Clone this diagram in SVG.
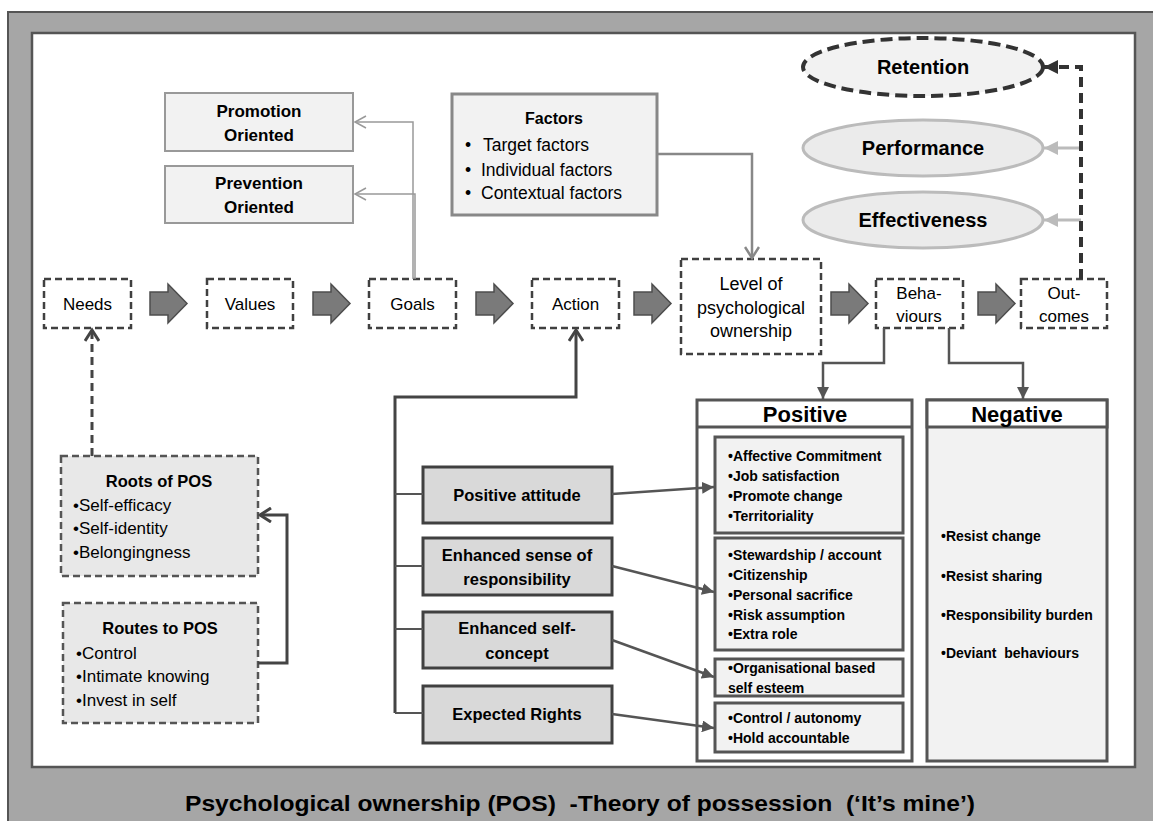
<svg xmlns="http://www.w3.org/2000/svg" width="1153" height="821" viewBox="0 0 1153 821">
<style>
text{font-family:"Liberation Sans",Arial,sans-serif;fill:#000}
.b{font-weight:bold}
.m{text-anchor:middle}
.pre{white-space:pre}
.dash{fill:#fff;stroke:#404040;stroke-width:2.5;stroke-dasharray:7,4}
.blk{fill:#7a7a7a;stroke:#4d4d4d;stroke-width:1.5}
.lt{fill:#f2f2f2;stroke:#999;stroke-width:2}
.dk{fill:#d9d9d9;stroke:#404040;stroke-width:3}
.inb{fill:#f2f2f2;stroke:#555;stroke-width:3}
.t17{font-size:17px}
.t14{font-size:14px}
.t16{font-size:16.5px}
</style>
<defs>
<marker id="chevG" markerUnits="userSpaceOnUse" markerWidth="14" markerHeight="14" refX="12" refY="7" orient="auto"><path d="M1,1 L12,7 L1,13" fill="none" stroke="#999" stroke-width="1.5"/></marker>
<marker id="chevM" markerUnits="userSpaceOnUse" markerWidth="16" markerHeight="16" refX="13" refY="8" orient="auto"><path d="M2,1 L13,8 L2,15" fill="none" stroke="#888" stroke-width="2.5"/></marker>
<marker id="chevD" markerUnits="userSpaceOnUse" markerWidth="16" markerHeight="16" refX="13" refY="8" orient="auto"><path d="M2,1 L13,8 L2,15" fill="none" stroke="#444" stroke-width="3"/></marker>
<marker id="triD" markerUnits="userSpaceOnUse" markerWidth="14" markerHeight="12" refX="12" refY="6" orient="auto"><path d="M0,0 L12,6 L0,12 Z" fill="#555"/></marker>
<marker id="triK" markerUnits="userSpaceOnUse" markerWidth="16" markerHeight="14" refX="14" refY="7" orient="auto"><path d="M0,0 L14,7 L0,14 Z" fill="#333"/></marker>
<marker id="triL" markerUnits="userSpaceOnUse" markerWidth="16" markerHeight="14" refX="14" refY="7" orient="auto"><path d="M0,0 L14,7 L0,14 Z" fill="#bbb"/></marker>
</defs>

<!-- frame -->
<rect x="8" y="12" width="1160" height="830" fill="#a6a6a6" stroke="#555" stroke-width="2"/>
<rect x="32" y="33" width="1103" height="734" fill="#fff" stroke="#555" stroke-width="2.5"/>
<text x="580" y="811" class="b m pre" font-size="22" textLength="790" lengthAdjust="spacingAndGlyphs">Psychological ownership (POS)  -Theory of possession  (‘It’s mine’)</text>

<!-- block arrows -->
<g id="flow-arrows">
  <path class="blk" d="M150,292 H168 V284 L187,303.5 L168,323 V315 H150 Z"/>
  <path class="blk" d="M313,292 H331 V284 L350,303.5 L331,323 V315 H313 Z"/>
  <path class="blk" d="M476,292 H494 V284 L513,303.5 L494,323 V315 H476 Z"/>
  <path class="blk" d="M634,292 H652 V284 L671,303.5 L652,323 V315 H634 Z"/>
  <path class="blk" d="M831,292 H849 V284 L868,303.5 L849,323 V315 H831 Z"/>
  <path class="blk" d="M978,292 H996 V284 L1015,303.5 L996,323 V315 H978 Z"/>
</g>

<g id="needs"><rect class="dash" x="44" y="279" width="87" height="49"/><text x="87.5" y="310" class="m t17">Needs</text></g>
<g id="values"><rect class="dash" x="207" y="279" width="86" height="49"/><text x="250" y="310" class="m t17">Values</text></g>
<g id="goals"><rect class="dash" x="369" y="279" width="87" height="49"/><text x="412.5" y="310" class="m t17">Goals</text></g>
<g id="action"><rect class="dash" x="532" y="279" width="87" height="49"/><text x="575.5" y="310" class="m t17">Action</text></g>
<g id="level"><rect class="dash" x="681" y="259" width="140" height="95"/>
  <text x="751" y="290" class="m" font-size="18">Level of</text>
  <text x="751" y="314" class="m" font-size="18">psychological</text>
  <text x="751" y="337" class="m" font-size="18">ownership</text></g>
<g id="behaviours"><rect class="dash" x="876" y="279" width="87" height="49"/>
  <text x="919" y="299" class="m t17">Beha-</text><text x="919" y="322" class="m t17">viours</text></g>
<g id="outcomes"><rect class="dash" x="1021" y="279" width="86" height="49"/>
  <text x="1064" y="299" class="m t17">Out-</text><text x="1064" y="322" class="m t17">comes</text></g>

<g id="promotion"><rect class="lt" x="165" y="93" width="188" height="58"/>
  <text x="259" y="117" class="b m t17">Promotion</text><text x="259" y="141" class="b m t17">Oriented</text></g>
<g id="prevention"><rect class="lt" x="165" y="166" width="188" height="57"/>
  <text x="259" y="189" class="b m t17">Prevention</text><text x="259" y="213" class="b m t17">Oriented</text></g>

<g id="factors"><rect x="452" y="94" width="205" height="121" fill="#f2f2f2" stroke="#888" stroke-width="3"/>
  <text x="554" y="124" class="b m" font-size="16">Factors</text>
  <text x="465" y="151" font-size="17.5">•</text><text x="483" y="151" font-size="17.5">Target factors</text>
  <text x="465" y="176" font-size="17.5">•</text><text x="481" y="176" font-size="17.5">Individual factors</text>
  <text x="465" y="199" font-size="17.5">•</text><text x="481" y="199" font-size="17.5">Contextual factors</text></g>

<g id="retention"><ellipse cx="923" cy="67" rx="120" ry="29" fill="#f2f2f2" stroke="#333" stroke-width="4" stroke-dasharray="12,6"/>
  <text x="923" y="74" class="b m" font-size="20">Retention</text></g>
<g id="performance"><ellipse cx="923" cy="148" rx="120" ry="28" fill="#ebebeb" stroke="#bbb" stroke-width="3"/>
  <text x="923" y="155" class="b m" font-size="20">Performance</text></g>
<g id="effectiveness"><ellipse cx="923" cy="220" rx="120" ry="28" fill="#ebebeb" stroke="#bbb" stroke-width="3"/>
  <text x="923" y="227" class="b m" font-size="20">Effectiveness</text></g>

<g id="roots"><rect x="61" y="456" width="197" height="120" fill="#e8e8e8" stroke="#555" stroke-width="2.5" stroke-dasharray="7,4"/>
  <text x="159" y="487" class="b m" font-size="16.5">Roots of POS</text>
  <text x="73" y="511" class="t17">•Self-efficacy</text>
  <text x="73" y="534" class="t17">•Self-identity</text>
  <text x="73" y="558" class="t17">•Belongingness</text></g>
<g id="routes"><rect x="63" y="603" width="195" height="120" fill="#e8e8e8" stroke="#555" stroke-width="2.5" stroke-dasharray="7,4"/>
  <text x="160" y="634" class="b m" font-size="16.5">Routes to POS</text>
  <text x="76" y="659" class="t17">•Control</text>
  <text x="76" y="682" class="t17">•Intimate knowing</text>
  <text x="76" y="706" class="t17">•Invest in self</text></g>

<g id="positive-attitude"><rect class="dk" x="423" y="467" width="189" height="56"/><text x="517" y="501" class="b m t16">Positive attitude</text></g>
<g id="responsibility"><rect class="dk" x="423" y="538" width="189" height="57"/><text x="517" y="561" class="b m t16">Enhanced sense of</text><text x="517" y="585" class="b m t16">responsibility</text></g>
<g id="self-concept"><rect class="dk" x="423" y="612" width="189" height="56"/><text x="517" y="634" class="b m t16">Enhanced self-</text><text x="517" y="659" class="b m t16">concept</text></g>
<g id="expected-rights"><rect class="dk" x="423" y="686" width="189" height="57"/><text x="517" y="720" class="b m t16">Expected Rights</text></g>

<g id="positive"><rect x="697" y="400" width="215" height="361" fill="#fff" stroke="#555" stroke-width="3"/>
  <line x1="697" y1="427" x2="912" y2="427" stroke="#555" stroke-width="3"/>
  <text x="805" y="422" class="b m" font-size="22">Positive</text>
  <rect class="inb" x="715" y="437" width="188" height="96"/>
  <text x="728" y="461" class="b t14">•Affective Commitment</text>
  <text x="728" y="481" class="b t14">•Job satisfaction</text>
  <text x="728" y="501" class="b t14">•Promote change</text>
  <text x="728" y="521" class="b t14">•Territoriality</text>
  <rect class="inb" x="715" y="538" width="188" height="112"/>
  <text x="728" y="560" class="b t14">•Stewardship / account</text>
  <text x="728" y="580" class="b t14">•Citizenship</text>
  <text x="728" y="600" class="b t14">•Personal sacrifice</text>
  <text x="728" y="620" class="b t14">•Risk assumption</text>
  <text x="728" y="639" class="b t14">•Extra role</text>
  <rect class="inb" x="715" y="659" width="188" height="37"/>
  <text x="728" y="673" class="b t14">•Organisational based</text>
  <text x="728" y="693" class="b t14">self esteem</text>
  <rect class="inb" x="715" y="703" width="188" height="49"/>
  <text x="728" y="723" class="b t14">•Control / autonomy</text>
  <text x="728" y="743" class="b t14">•Hold accountable</text></g>

<g id="negative"><rect x="927" y="400" width="180" height="361" fill="#f2f2f2" stroke="#555" stroke-width="3"/>
  <rect x="927" y="400" width="180" height="27" fill="#fff" stroke="#555" stroke-width="3"/>
  <text x="1017" y="422" class="b m" font-size="22">Negative</text>
  <text x="941" y="541" class="b t14">•Resist change</text>
  <text x="941" y="581" class="b t14">•Resist sharing</text>
  <text x="941" y="620" class="b t14">•Responsibility burden</text>
  <text x="941" y="658" class="b t14 pre">•Deviant  behaviours</text></g>

<!-- connectors -->
<g id="connectors" fill="none">
  <polyline points="413,279 413,122 355,122" stroke="#999" stroke-width="1.5" marker-end="url(#chevG)"/>
  <polyline points="415,279 415,194 355,194" stroke="#999" stroke-width="1.5" marker-end="url(#chevG)"/>
  <polyline points="657,154 752,154 752,258" stroke="#888" stroke-width="2.5" marker-end="url(#chevM)"/>
  <polyline points="92,456 92,330" stroke="#444" stroke-width="3" stroke-dasharray="8,5" marker-end="url(#chevD)"/>
  <polyline points="258,663 287,663 287,515 260,515" stroke="#444" stroke-width="3" marker-end="url(#chevD)"/>
  <polyline points="395,713 395,397 576,397 576,330" stroke="#444" stroke-width="3" marker-end="url(#chevD)"/>
  <line x1="395" y1="494" x2="423" y2="494" stroke="#555" stroke-width="2"/>
  <line x1="395" y1="566" x2="423" y2="566" stroke="#555" stroke-width="2"/>
  <line x1="395" y1="629" x2="423" y2="629" stroke="#555" stroke-width="2"/>
  <line x1="395" y1="713" x2="423" y2="713" stroke="#555" stroke-width="2"/>
  <polyline points="884,328 884,363 823,363 823,399" stroke="#555" stroke-width="2.5" marker-end="url(#triD)"/>
  <polyline points="949,328 949,363 1023,363 1023,399" stroke="#555" stroke-width="2.5" marker-end="url(#triD)"/>
  <line x1="1081" y1="148" x2="1044" y2="148" stroke="#bbb" stroke-width="3" marker-end="url(#triL)"/>
  <line x1="1081" y1="220" x2="1044" y2="220" stroke="#bbb" stroke-width="3" marker-end="url(#triL)"/>
  <polyline points="1081,279 1081,67 1044,67" stroke="#333" stroke-width="4" stroke-dasharray="10,6" marker-end="url(#triK)"/>
  <line x1="612" y1="494" x2="714" y2="487" stroke="#555" stroke-width="2.5" marker-end="url(#triD)"/>
  <line x1="612" y1="566" x2="714" y2="592" stroke="#555" stroke-width="2.5" marker-end="url(#triD)"/>
  <line x1="612" y1="640" x2="714" y2="677" stroke="#555" stroke-width="2.5" marker-end="url(#triD)"/>
  <line x1="612" y1="714" x2="714" y2="728" stroke="#555" stroke-width="2.5" marker-end="url(#triD)"/>
</g>
</svg>
